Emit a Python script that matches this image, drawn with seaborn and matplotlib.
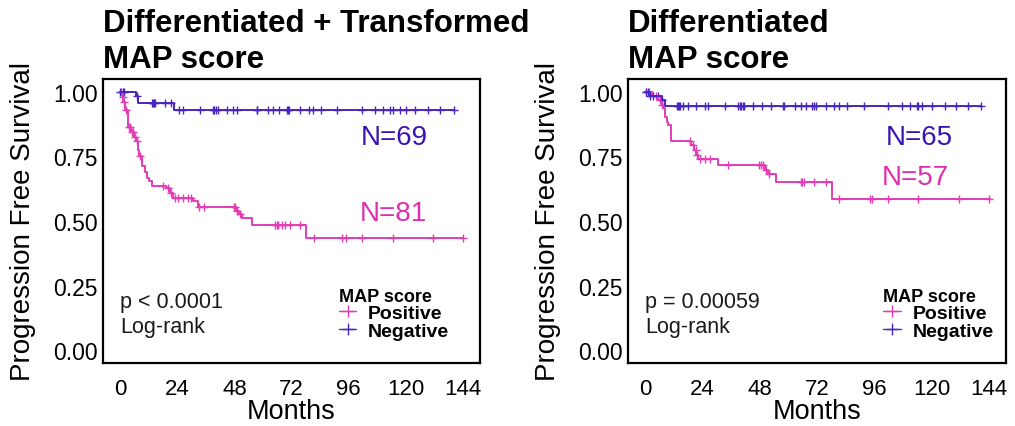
import numpy as np
import pandas as pd
import matplotlib
matplotlib.use("Agg")
import matplotlib.pyplot as plt
from matplotlib.lines import Line2D
import seaborn as sns

# ---------------- data ----------------
PINK = "#E23DB5"
BLUE = "#4A25C2"

panel_titles = ["Differentiated + Transformed\nMAP score", "Differentiated\nMAP score"]
p_texts = ["p < 0.0001\nLog-rank", "p = 0.00059\nLog-rank"]
n_pos = ["N=81", "N=57"]
n_neg = ["N=69", "N=65"]
x_ticks = [0, 24, 48, 72, 96, 120, 144]
y_ticks = [0.00, 0.25, 0.50, 0.75, 1.00]

# Left panel: Positive (pink)
L_pos_t = [1.0, 1.4, 2.1, 3.2, 4.6, 6.0, 6.7, 7.4, 7.9, 9.3, 10.4, 11.1, 12.1, 13.2,
           19.4, 20.8, 22.2, 30.5, 32.6, 48.5, 49.9, 51.3, 55.4, 78.2]
L_pos_s = [0.981, 0.962, 0.929, 0.865, 0.846, 0.827, 0.808, 0.776, 0.750, 0.712, 0.689,
           0.667, 0.654, 0.637, 0.628, 0.609, 0.590, 0.577, 0.555, 0.539, 0.526, 0.513,
           0.485, 0.436]
L_pos_end = 144.0
L_pos_cens = [0.5, 1.2, 1.8, 2.5, 3.6, 4.2, 5.0, 5.6, 6.3, 7.0, 8.5, 18.0, 20.1, 21.5,
              22.9, 24.5, 26.3, 28.4, 29.8, 33.2, 35.3, 47.7, 48.4, 49.1, 50.5, 65.0,
              65.7, 66.4, 67.8, 69.2, 71.2, 75.4, 81.6, 93.4, 94.8, 101.6, 114.8,
              131.4, 143.9]
# Left panel: Negative (blue)
L_neg_t = [6.5, 7.6, 22.5]
L_neg_s = [0.986, 0.957, 0.928]
L_neg_end = 140.1
L_neg_cens = [0.0, 1.0, 1.8, 7.2, 13.2, 13.6, 14.1, 14.8, 18.7, 21.5, 24.7, 26.3, 33.4,
              38.9, 39.5, 40.2, 41.1, 45.0, 47.5, 48.9, 57.5, 57.7, 62.3, 64.4, 66.9,
              69.9, 70.6, 71.0, 75.5, 79.3, 81.0, 84.2, 91.2, 101.6, 107.2, 110.6,
              113.4, 114.8, 117.5, 120.3, 123.8, 129.3, 134.2, 140.1]

# Right panel: Positive (pink)
R_pos_t = [2.8, 5.5, 6.9, 7.6, 8.3, 9.0, 9.7, 10.8, 19.4, 20.5, 21.5, 22.2, 30.5,
           50.3, 51.3, 54.8, 78.1]
R_pos_s = [0.983, 0.968, 0.950, 0.936, 0.904, 0.885, 0.872, 0.811, 0.795, 0.776, 0.757,
           0.741, 0.718, 0.699, 0.683, 0.651, 0.587]
R_pos_end = 144.5
R_pos_cens = [0.5, 1.5, 4.5, 6.2, 7.2, 18.7, 20.1, 21.1, 21.9, 22.9, 24.9, 27.0, 34.7,
              47.8, 48.5, 49.2, 50.6, 52.0, 65.2, 65.9, 66.6, 70.7, 75.6, 81.1, 94.3,
              95.0, 101.9, 114.4, 131.7, 144.2]
# Right panel: Negative (blue)
R_neg_t = [2.1, 6.9, 8.3]
R_neg_s = [0.985, 0.969, 0.946]
R_neg_end = 140.8
R_neg_cens = [0.3, 1.2, 2.1, 3.4, 5.4, 7.0, 13.2, 13.6, 14.1, 14.7, 15.9, 18.0, 21.1,
              24.9, 26.3, 33.3, 39.1, 39.7, 40.2, 40.8, 41.6, 45.1, 48.8, 52.7, 57.8,
              58.2, 62.8, 65.2, 67.3, 70.0, 70.7, 71.4, 75.6, 79.0, 81.1, 84.6, 91.5,
              101.9, 107.5, 110.9, 113.7, 114.4, 115.8, 120.0, 125.5, 130.4, 135.2,
              140.8]

panels = [
    dict(pos=(L_pos_t, L_pos_s, L_pos_end, L_pos_cens),
         neg=(L_neg_t, L_neg_s, L_neg_end, L_neg_cens),
         npos_xy=(115, 0.53), nneg_xy=(115, 0.825), leg_x=0.60),
    dict(pos=(R_pos_t, R_pos_s, R_pos_end, R_pos_cens),
         neg=(R_neg_t, R_neg_s, R_neg_end, R_neg_cens),
         npos_xy=(113, 0.67), nneg_xy=(115, 0.825), leg_x=0.65),
]


def curve_frame(t, s, end):
    xs = [0.0] + list(t) + [end]
    ys = [1.0] + list(s) + [s[-1]]
    return pd.DataFrame({"Months": xs, "Survival": ys})


def censor_frame(t, s, cens):
    t = np.asarray(t)
    s = np.asarray(s)
    c = np.asarray(cens)
    idx = np.searchsorted(t, c, side="right")
    lev = np.where(idx == 0, 1.0, s[np.maximum(idx - 1, 0)])
    return pd.DataFrame({"Months": c, "Survival": lev})


sns.set_theme(style="white")
plt.rcParams["font.family"] = ["Liberation Sans", "DejaVu Sans"]
plt.rcParams["text.color"] = "black"
plt.rcParams["axes.labelcolor"] = "black"

fig = plt.figure(figsize=(10.15, 4.27), dpi=100)
W, H = 1015, 427
boxes = [(103, 80, 480, 364), (628, 80, 1006, 364)]

for i, (panel, box) in enumerate(zip(panels, boxes)):
    x0, y0, x1, y1 = box
    ax = fig.add_axes([x0 / W, 1 - y1 / H, (x1 - x0) / W, (y1 - y0) / H])
    for key, color in (("pos", PINK), ("neg", BLUE)):
        t, s, end, cens = panel[key]
        sns.lineplot(data=curve_frame(t, s, end), x="Months", y="Survival", ax=ax,
                     color=color, lw=1.4, drawstyle="steps-post", estimator=None,
                     sort=False, legend=False)
        sns.scatterplot(data=censor_frame(t, s, cens), x="Months", y="Survival", ax=ax,
                        color=color, marker="+", s=30, linewidth=1.0, legend=False)

    ax.set_xlim(-7.2, 151.2)
    ax.set_ylim(-0.05, 1.05)
    ax.set_xticks(x_ticks)
    ax.set_yticks(y_ticks)
    ax.set_xticklabels([str(v) for v in x_ticks], fontsize=16)
    ax.set_yticklabels([f"{v:.2f}" for v in y_ticks], fontsize=16.5)
    ax.tick_params(axis="both", direction="out", length=3, width=1, color="#333333",
                   pad=1, labelcolor="black")
    ax.tick_params(axis="x", pad=8)
    for sp in ax.spines.values():
        sp.set_visible(True)
        sp.set_color("black")
        sp.set_linewidth(1.6)
    ax.set_xlabel("Months", fontsize=19.5, labelpad=-1)
    ax.set_ylabel("Progression Free Survival", fontsize=20, labelpad=12)
    ax.set_title(panel_titles[i], loc="left", fontsize=22.5, fontweight="bold",
                 pad=9, linespacing=1.22, color="black")

    ax.text(*panel["nneg_xy"], n_neg[i], color="#3A12B5", fontsize=20,
            ha="center", va="center")
    ax.text(*panel["npos_xy"], n_pos[i], color="#DD2FAE", fontsize=20,
            ha="center", va="center")
    ax.text(0, 0.14, p_texts[i], fontsize=15.5, ha="left", va="center",
            color="#1a1a1a", linespacing=1.25)

    handles = [Line2D([], [], color=PINK, marker="+", lw=1, markersize=8),
               Line2D([], [], color=BLUE, marker="+", lw=1, markersize=8)]
    leg = ax.legend(handles, ["Positive", "Negative"], title="MAP score",
                    loc="upper left", bbox_to_anchor=(panel["leg_x"], 0.30),
                    frameon=False, handlelength=0.9, handletextpad=0.6,
                    labelspacing=0.0, borderpad=0.0,
                    prop={"weight": "bold", "size": 14})
    leg.get_title().set_fontweight("bold")
    leg.get_title().set_fontsize(13)
    leg._legend_box.align = "left"

fig.savefig("out.png", dpi=100)
